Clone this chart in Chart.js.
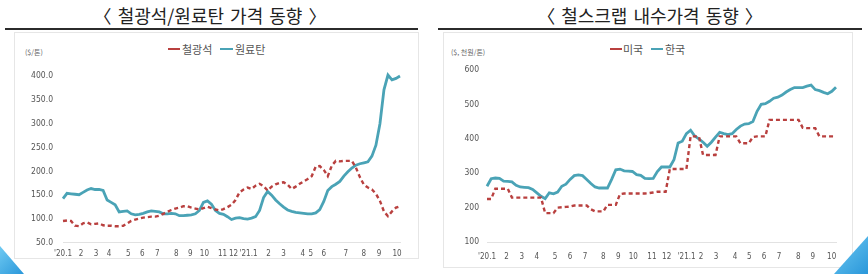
<!DOCTYPE html>
<html><head><meta charset="utf-8">
<script src="https://cdn.jsdelivr.net/npm/chart.js@4.4.1/dist/chart.umd.min.js"></script>
<style>
body{margin:0;width:868px;height:274px;background:#fff;position:relative;overflow:hidden;font-family:"Noto Sans CJK KR","Noto Sans",sans-serif;}
.title{position:absolute;top:3px;font-size:18px;color:#222;white-space:nowrap;transform:translateX(-50%);line-height:24px;word-spacing:2px;}
.rule{position:absolute;top:28px;height:2px;background:#2b2b2b;}
.panel{position:absolute;border:1px solid #e6e6e6;background:#fff;box-sizing:border-box;}
.unit{position:absolute;top:47px;font-size:7px;color:#666;white-space:nowrap;}
.lg{position:absolute;top:41px;font-size:11px;color:#555;white-space:nowrap;line-height:16px;}
.dash{position:absolute;top:48px;height:0;border-top:2px dashed #b9403f;}
.solid{position:absolute;top:48px;height:2px;background:#4aa3b6;}
.cv{position:absolute;}
.tri{position:absolute;background:linear-gradient(135deg,#6fcaf2,#2a97da);}
</style></head>
<body>
<div class="panel" style="left:14px;top:32px;width:405px;height:227px;"></div>
<div class="panel" style="left:443px;top:32px;width:410px;height:236px;"></div>
<div class="title" style="left:210px;">〈 철광석/원료탄 가격 동향 〉</div>
<div class="title" style="left:650px;">〈 철스크랩 내수가격 동향 〉</div>
<div class="rule" style="left:5px;width:413px;"></div>
<div class="rule" style="left:438px;width:424px;"></div>
<div class="unit" style="left:25px;">($/톤)</div>
<div class="unit" style="left:451px;">($, 천원/톤)</div>
<div class="dash" style="left:168px;width:12px;"></div>
<div class="lg" style="left:182px;">철광석</div>
<div class="solid" style="left:220px;width:13px;"></div>
<div class="lg" style="left:235px;">원료탄</div>
<div class="dash" style="left:610px;width:12px;"></div>
<div class="lg" style="left:623px;">미국</div>
<div class="solid" style="left:651px;width:12px;"></div>
<div class="lg" style="left:665px;">한국</div>
<div class="tri" style="left:0;top:246px;width:24px;height:28px;clip-path:polygon(0 0,100% 100%,0 100%);"></div>
<div class="tri" style="left:834px;top:236px;width:34px;height:38px;clip-path:polygon(100% 0,100% 100%,0 100%);"></div>
<div class="cv" style="left:15px;top:32px;"><canvas id="c1" width="403" height="226"></canvas></div>
<div class="cv" style="left:443px;top:32px;"><canvas id="c2" width="409" height="235"></canvas></div>
<script>
// ---- Left chart: 철광석 / 원료탄 ($/톤), weekly '20.1 ~ '21.10
const ironOre = [96,97,96,86,85,91,93,89,90,91,
  87,86,86,85,85,86,91,96,99,101,
  103,104,105,105,107,111,115,119,122,124,
  127,127,124,122,120,123,126,123,120,118,
  121,125,130,140,156,162,166,163,170,174,
  169,160,168,173,176,177,172,163,168,174,
  179,184,190,210,211,203,190,212,222,221,
  222,222,222,208,188,172,166,162,153,138,
  116,106,116,124,127];
const cokingCoal = [143,154,153,152,151,156,161,164,162,162,
  160,140,135,130,115,116,117,111,109,110,
  112,115,117,116,115,111,111,112,111,107,
  107,108,109,111,118,135,138,131,118,112,
  110,105,99,102,103,101,100,102,105,118,
  145,158,150,140,132,125,119,116,114,113,
  112,111,111,113,120,137,160,168,173,179,
  190,199,207,213,216,218,220,232,255,300,
  371,402,392,395,400];
const leftTickLabels = ["'20.1","2","3","4","5","6","7","8","9","10","11","12","'21.1","2","3","4","5","6","7","8","9","10"];
const leftTickWeeks = [0,4.5,8.25,11.5,16.25,19.75,23.5,28.25,31.75,35.25,39.75,42.5,46.25,51.25,55,59.75,61.75,65,70.5,75,78.75,83.25];

// ---- Right chart: 철스크랩 미국 / 한국 ($, 천원/톤)
const usScrap = [225,225,255,255,255,255,229,229,229,229,
  229,229,229,229,184,184,184,200,201,202,
  203,206,206,206,206,195,189,189,189,208,
  208,208,239,241,241,241,241,241,241,242,
  244,246,246,246,312,312,312,312,312,407,
  407,407,353,353,353,353,407,407,407,407,
  407,387,387,387,405,407,407,407,455,455,
  455,455,455,455,455,455,432,431,431,431,
  407,407,407,407,407];
const krScrap = [262,284,286,285,277,276,275,265,260,259,
  258,253,243,233,226,243,240,245,262,268,
  282,293,295,293,282,270,260,257,257,257,
  282,310,312,307,306,305,296,294,285,284,
  285,305,318,318,318,339,388,393,415,425,
  408,400,390,378,390,405,419,415,412,415,
  427,437,443,444,450,480,500,502,509,518,
  521,527,536,543,549,549,549,553,556,543,
  540,535,531,538,550];
const rightTickLabels = ["'20.1","2","3","4","5","6","7","8","9","10","11","12","'21.1","2","3","4","5","6","7","8","9","10"];
const rightTickWeeks = [0,4.7,8.35,12,16.4,20,23.6,28,31.6,35.2,39.7,43.25,48.05,51.5,55.1,59.7,63.1,66.7,70.3,74.9,78.4,82.95];

const RED = '#b9403f', BLUE = '#4aa3b6';
const xFont = {family:"'Liberation Sans Narrow','DejaVu Sans Condensed',sans-serif", size:8};
const yFont = {family:"'Liberation Sans Narrow','DejaVu Sans Condensed',sans-serif", size:8.5};

function pts(arr){ return arr.map((v,i)=>({x:i,y:v})); }

function makeChart(id, redData, blueData, redLabel, blueLabel, tickWeeks, tickLabels, yMin, yMax, yStep, yDec, cfg){
  return new Chart(document.getElementById(id), {
    type:'line',
    data:{datasets:[
      {label:redLabel, data:pts(redData), borderColor:RED, borderWidth:2.4, borderDash:[4,3], pointRadius:0, tension:0, clip:false},
      {label:blueLabel, data:pts(blueData), borderColor:BLUE, borderWidth:2.8, pointRadius:0, tension:0, clip:false}
    ]},
    options:{
      responsive:false, animation:false, devicePixelRatio:1,
      layout:{padding:{top:cfg.top, right:cfg.right, left:0, bottom:0}},
      plugins:{legend:{display:false}, tooltip:{enabled:false}},
      scales:{
        x:{type:'linear', min:0, max:blueData.length-1,
           grid:{display:false, drawTicks:false},
           border:{display:true, color:'#e2e2e2', width:1},
           afterBuildTicks:(s)=>{ s.ticks = tickWeeks.map(v=>({value:v})); },
           afterFit:(s)=>{ s.height = cfg.xh; },
           ticks:{autoSkip:false, maxRotation:0, minRotation:0, padding:cfg.xpad, color:'#555', font:xFont,
                  callback:(v,i)=>tickLabels[i]}},
        y:{min:yMin, max:yMax,
           grid:{display:false, drawTicks:false},
           border:{display:false},
           afterFit:(s)=>{ s.width = cfg.yw; },
           ticks:{stepSize:yStep, padding:cfg.ypad, color:'#555', font:yFont,
                  callback:(v)=>v.toFixed(yDec)}}
      }
    }
  });
}

makeChart('c1', ironOre, cokingCoal, '철광석', '원료탄', leftTickWeeks, leftTickLabels, 50, 400, 50, 1,
  {top:44, right:18, xh:15, xpad:6, yw:48, ypad:10});
makeChart('c2', usScrap, krScrap, '미국', '한국', rightTickWeeks, rightTickLabels, 100, 600, 100, 0,
  {top:38, right:16, xh:25, xpad:10, yw:44, ypad:8});
</script>
</body></html>
